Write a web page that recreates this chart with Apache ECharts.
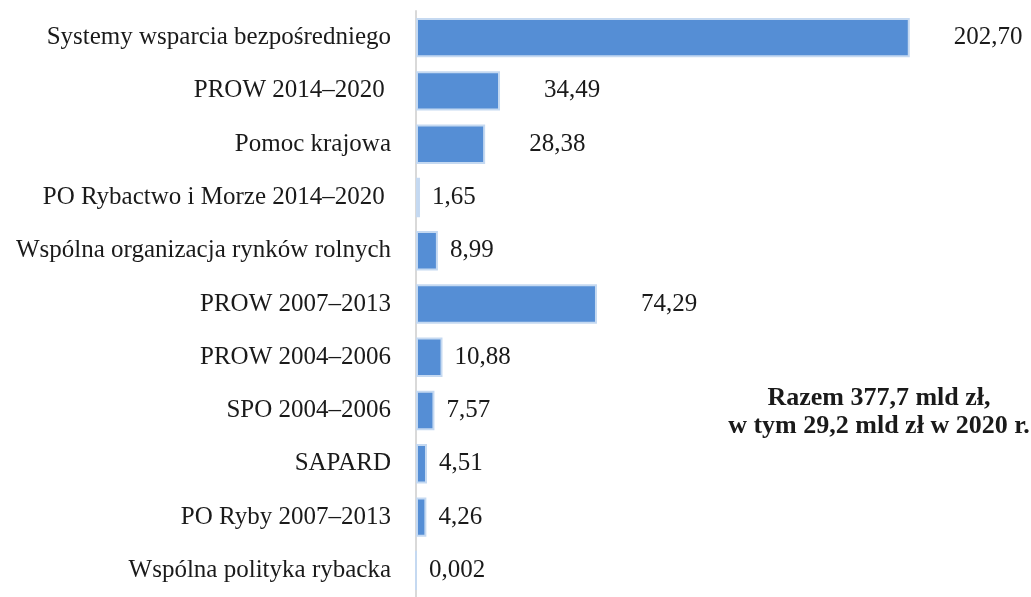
<!doctype html>
<html lang="pl">
<head>
    <meta charset="UTF-8" />
    <title>Wydatki</title>
    <style>
        html, body { margin: 0; padding: 0; background: #fff; }
        #chart { width: 1031px; height: 597px; }
    </style>
</head>
<body>
    <div id="chart"></div>
    <script src="https://cdn.jsdelivr.net/npm/echarts@6/dist/echarts.min.js"></script>
    <script>
        // kategorie (od góry)
        var categories = [
            'Systemy wsparcia bezpośredniego',
            'PROW 2014–2020 ',
            'Pomoc krajowa',
            'PO Rybactwo i Morze 2014–2020 ',
            'Wspólna organizacja rynków rolnych',
            'PROW 2007–2013',
            'PROW 2004–2006',
            'SPO 2004–2006',
            'SAPARD',
            'PO Ryby 2007–2013',
            'Wspólna polityka rybacka'
        ];
        var values = [202.70, 34.49, 28.38, 1.65, 8.99, 74.29, 10.88, 7.57, 4.51, 4.26, 0.002];
        var valueLabels = ['202,70', '34,49', '28,38', '1,65', '8,99', '74,29', '10,88', '7,57', '4,51', '4,26', '0,002'];
        var noteLines = ['Razem 377,7 mld zł,', 'w tym 29,2 mld zł w 2020 r.'];

        var font = '"Liberation Serif", "DejaVu Serif", serif';

        var chart = echarts.init(document.getElementById('chart'));

        var option = {
            animation: false,
            grid: { left: 416, right: 6, top: 11, bottom: -8, containLabel: false },
            xAxis: {
                type: 'value',
                min: 0,
                max: 250,
                show: false
            },
            yAxis: {
                type: 'category',
                data: categories,
                inverse: true,
                axisLine: { show: true, lineStyle: { color: '#d9d9d9', width: 2 } },
                axisTick: { show: false },
                axisLabel: {
                    color: '#1a1a1a',
                    fontFamily: font,
                    fontSize: 25,
                    margin: 25
                }
            },
            series: [{
                type: 'bar',
                barCategoryGap: '26%',
                data: values.map(function (v) {
                    // duże słupki mają etykietę dalej od końca
                    return { value: v, label: { distance: v > 20 ? 44 : 12 } };
                }),
                itemStyle: {
                    color: '#558ed5',
                    borderColor: '#c5d9f1',
                    borderWidth: 2
                },
                label: {
                    show: true,
                    position: 'right',
                    color: '#1a1a1a',
                    fontFamily: font,
                    fontSize: 25,
                    formatter: function (p) { return valueLabels[p.dataIndex]; }
                }
            }],
            graphic: [{
                type: 'text',
                x: 879,
                y: 412,
                style: {
                    text: noteLines.join('\n'),
                    font: 'bold 26px ' + font,
                    fill: '#1a1a1a',
                    align: 'center',
                    verticalAlign: 'middle',
                    lineHeight: 28
                }
            }]
        };

        chart.setOption(option);
    </script>
</body>
</html>
